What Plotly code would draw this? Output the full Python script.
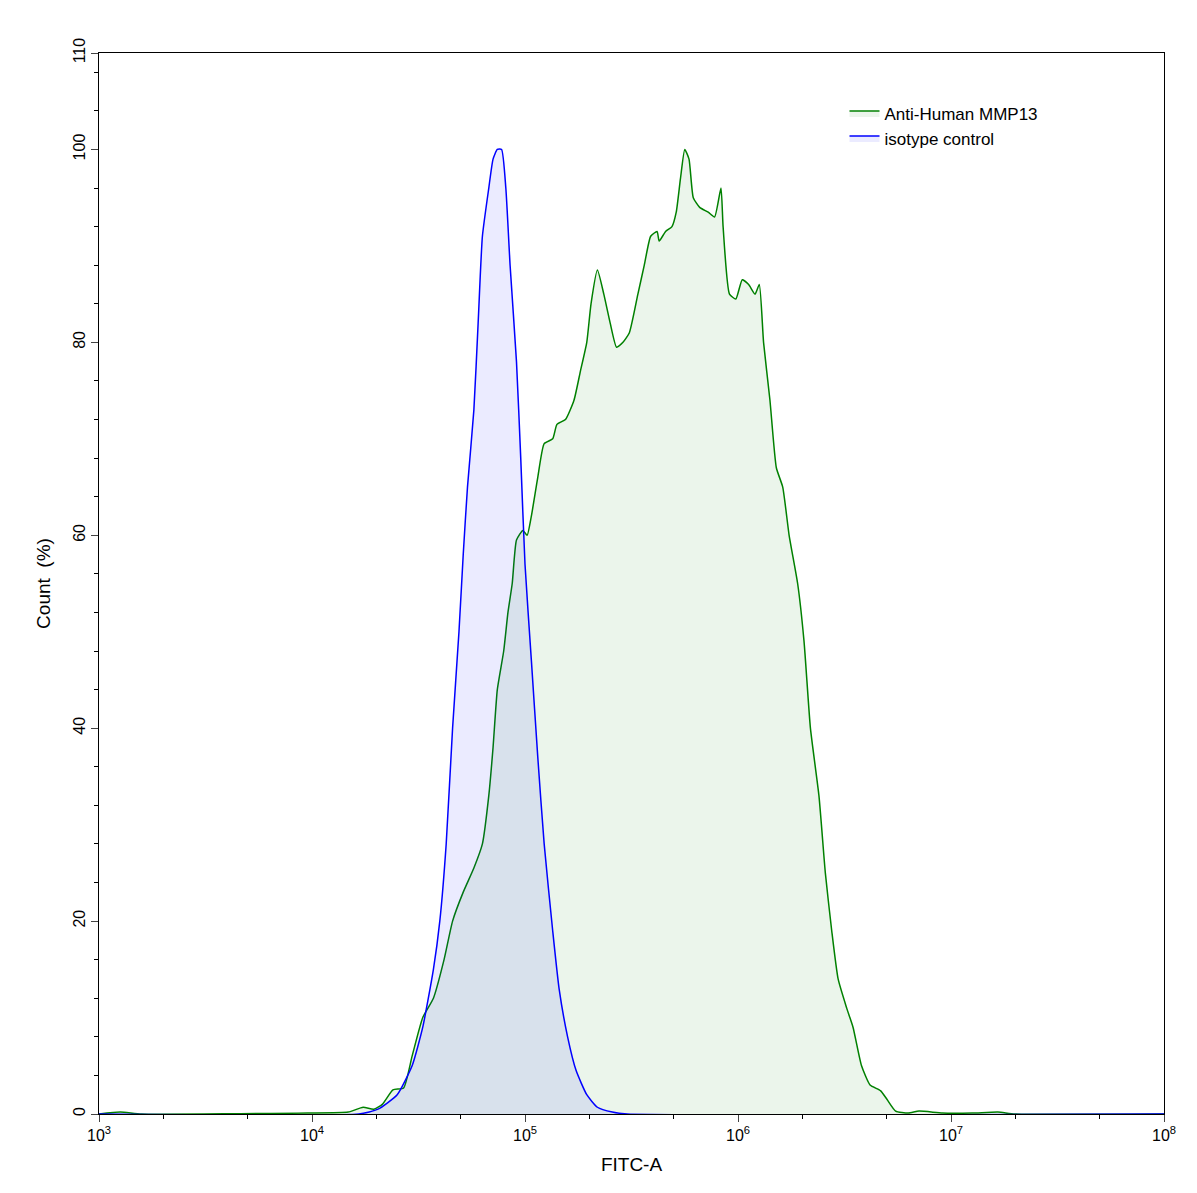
import plotly.graph_objects as go

iso_logx = [3.0,4.22,4.31,4.40,4.47,4.52,4.57,4.60,4.63,4.66,4.69,4.71,4.73,4.76,4.78,4.80,4.83,4.85,4.87,4.89,4.91,4.93,4.96,4.98,5.00,5.03,5.06,5.09,5.13,5.16,5.20,5.24,5.29,5.34,5.41,5.48,8.0]
iso_y = [0,0,0.5,2,5,9,15,20,28,40,50,58,65,73,82,91,96,99,100,100,96,88,78,68,57,47,37,28,19,13,8,4.5,2,0.7,0.2,0,0]

mmp_logx = [3.0,3.1,3.2,3.98,4.17,4.24,4.29,4.33,4.38,4.43,4.47,4.52,4.57,4.62,4.66,4.71,4.76,4.80,4.83,4.85,4.87,4.90,4.92,4.94,4.96,4.99,5.01,5.03,5.06,5.09,5.13,5.15,5.19,5.23,5.26,5.29,5.31,5.34,5.37,5.40,5.43,5.46,5.49,5.53,5.56,5.59,5.62,5.63,5.66,5.69,5.71,5.73,5.75,5.77,5.79,5.82,5.86,5.89,5.92,5.93,5.96,5.99,6.02,6.05,6.08,6.10,6.12,6.15,6.18,6.21,6.24,6.28,6.31,6.34,6.38,6.41,6.44,6.47,6.51,6.54,6.58,6.62,6.67,6.70,6.74,6.80,6.85,6.96,7.10,7.22,7.30,8.0]
mmp_y = [0,0.2,0,0.1,0.2,0.7,0.5,1,2.5,2.7,6,10,12,16,20,23,25.5,28,33,38,44,48,52,55,59.5,60.5,60,62,66,69.5,70,71.5,72,74,77,80,84,87.5,85,82,79.5,80,81,85,88,91,91.5,90.5,91.5,92,93.5,97,100,99,95,94,93.5,93,96,92,85,84.5,86.5,86,85,86,80,74,67,65,60,55,49,40,33,25,19,14,11,9,5,3,2.4,1.5,0.3,0.1,0.3,0.1,0.1,0.2,0,0]

decades = [3,4,5,6,7,8]
tick_text = ["10<sup>%d</sup>" % d for d in decades]
y_ticks = [0,20,40,60,80,100,110]

fig = go.Figure()
fig.add_trace(go.Scatter(x=[10**v for v in mmp_logx], y=mmp_y, mode="lines", name="Anti-Human MMP13",
                         line=dict(color="#008000", width=1.5, shape="spline", smoothing=0.5),
                         fill="tozeroy", fillcolor="rgba(0,128,0,0.08)"))
fig.add_trace(go.Scatter(x=[10**v for v in iso_logx], y=iso_y, mode="lines", name="isotype control",
                         line=dict(color="#0000ff", width=1.5, shape="spline", smoothing=0.5),
                         fill="tozeroy", fillcolor="rgba(0,0,255,0.08)"))

fig.update_layout(
    width=1197, height=1193, plot_bgcolor="white", paper_bgcolor="white",
    margin=dict(l=91, r=41, t=45, b=87),
    font=dict(family="Liberation Sans, Arial", size=16, color="black"),
    legend=dict(x=0.7, y=0.96, xanchor="left", yanchor="top", bgcolor="rgba(0,0,0,0)", font=dict(size=17)),
)
fig.update_xaxes(type="log", range=[3, 8], tickvals=[10**d for d in decades], ticktext=tick_text,
                 showline=True, linecolor="black", mirror=True, ticks="outside", ticklen=7,
                 showgrid=False, zeroline=False, automargin=False, title=dict(text="FITC-A", standoff=14),
                 minor=dict(ticks="outside", ticklen=4, tickcolor="black", showgrid=False))
fig.update_yaxes(range=[0, 110], tickvals=y_ticks, tickangle=-90, showline=True, linecolor="black", mirror=True,
                 ticks="outside", ticklen=7, showgrid=False, zeroline=False, automargin=False,
                 title=dict(text="Count  (%)", standoff=14),
                 minor=dict(ticks="outside", ticklen=4, dtick=4, tickcolor="black", showgrid=False))
fig.write_html("out.html")
